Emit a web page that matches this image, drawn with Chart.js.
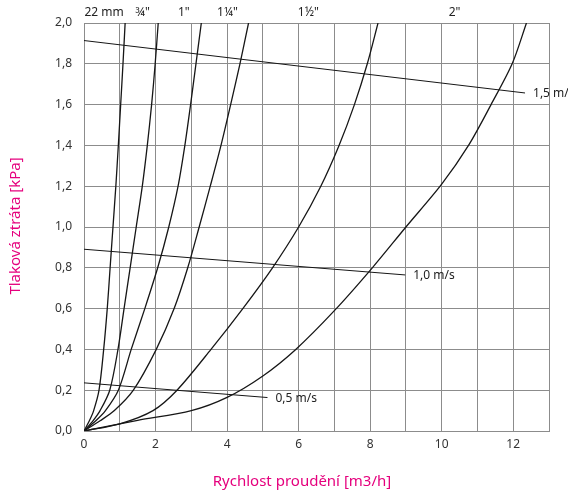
<!DOCTYPE html>
<html>
<head>
<meta charset="utf-8">
<script src="https://cdn.jsdelivr.net/npm/chart.js@4"></script>
<style>
html, body { margin: 0; padding: 0; background: #fff; }
#graf { display: block; }
</style>
</head>
<body>
<canvas id="graf" width="568" height="494"></canvas>
<script>
// Dimenze potrubí a kde nad grafem stojí jejich popisky (v jednotkách osy X)
const potrubi = ['22 mm', '¾"', '1"', '1¼"', '1½"', '2"'];
const popiskyX = [0.56, 1.64, 2.79, 4.01, 6.27, 10.36];

// Tlakové ztráty jednotlivých potrubí: průtok [m3/h] a ztráta [kPa]
const prutok22 = [0, 0.15, 0.27, 0.42, 0.55, 0.65, 0.73, 0.81, 0.89, 0.96, 1.025, 1.09, 1.15];
const ztrata22 = [0, 0.05, 0.10, 0.20, 0.40, 0.60, 0.80, 1.00, 1.20, 1.40, 1.60, 1.80, 2.00];

const prutok34 = [0, 0.25, 0.45, 0.72, 0.95, 1.12, 1.29, 1.46, 1.63, 1.77, 1.89, 1.99, 2.075];
const ztrata34 = [0, 0.05, 0.10, 0.20, 0.40, 0.60, 0.80, 1.00, 1.20, 1.40, 1.60, 1.80, 2.00];

const prutok1 = [0, 0.33, 0.6, 0.96, 1.32, 1.7, 2.06, 2.37, 2.63, 2.82, 2.98, 3.13, 3.28];
const ztrata1 = [0, 0.05, 0.10, 0.20, 0.40, 0.60, 0.80, 1.00, 1.20, 1.40, 1.60, 1.80, 2.00];

const prutok114 = [0, 0.45, 0.85, 1.38, 2.02, 2.52, 2.9, 3.22, 3.53, 3.83, 4.1, 4.36, 4.6];
const ztrata114 = [0, 0.05, 0.10, 0.20, 0.40, 0.60, 0.80, 1.00, 1.20, 1.40, 1.60, 1.80, 2.00];

const prutok112 = [0, 1.0, 1.93, 2.6, 3.55, 4.44, 5.27, 6.0, 6.62, 7.13, 7.56, 7.92, 8.22];
const ztrata112 = [0, 0.035, 0.10, 0.20, 0.40, 0.60, 0.80, 1.00, 1.20, 1.40, 1.60, 1.80, 2.00];

const prutok2 = [0, 1.5, 3, 4, 5, 5.92, 7.0, 8.06, 9.0, 10.0, 10.75, 11.38, 11.97, 12.37];
const ztrata2 = [0, 0.052, 0.10, 0.165, 0.27, 0.40, 0.59, 0.80, 1.00, 1.21, 1.40, 1.60, 1.80, 2.00];

const prutoky = [prutok22, prutok34, prutok1, prutok114, prutok112, prutok2];
const ztraty = [ztrata22, ztrata34, ztrata1, ztrata114, ztrata112, ztrata2];

// Čáry rychlosti proudění (začátek a konec)
const rychlosti = ['0,5 m/s', '1,0 m/s', '1,5 m/s'];
const rychlostX = [[0, 5.13], [0, 8.98], [0, 12.33]];
const rychlostY = [[0.236, 0.164], [0.891, 0.765], [1.914, 1.657]];

const RUZOVA = '#e5007d';
const PISMO = '"Noto Sans", "Open Sans", sans-serif';

function body(xs, ys) {
    return xs.map((x, i) => ({ x: x, y: ys[i] }));
}

const datasets = [];
prutoky.forEach((xs, i) => {
    datasets.push({
        label: potrubi[i],
        data: body(xs, ztraty[i]),
        borderColor: '#161616',
        borderWidth: 1.3,
        pointRadius: 0,
        fill: false,
        tension: 0.3
    });
});
rychlosti.forEach((r, i) => {
    datasets.push({
        label: r,
        data: body(rychlostX[i], rychlostY[i]),
        borderColor: '#161616',
        borderWidth: 1,
        pointRadius: 0,
        fill: false,
        tension: 0,
        clip: false
    });
});

// Popisky potrubí, rychlostí a názvy os
const popisky = {
    id: 'popisky',
    afterDraw(chart) {
        const ctx = chart.ctx;
        const sx = chart.scales.x;
        const sy = chart.scales.y;
        ctx.save();
        ctx.fillStyle = '#222';
        ctx.font = '12px ' + PISMO;
        ctx.textAlign = 'center';
        ctx.textBaseline = 'middle';
        potrubi.forEach((p, i) => {
            ctx.fillText(p, sx.getPixelForValue(popiskyX[i]), 13);
        });

        ctx.textAlign = 'left';
        rychlosti.forEach((r, i) => {
            const px = sx.getPixelForValue(rychlostX[i][1]);
            const py = sy.getPixelForValue(rychlostY[i][1]);
            ctx.fillText(r, px + 8, py + 1);
        });

        ctx.fillStyle = RUZOVA;
        ctx.font = '15px ' + PISMO;
        ctx.textAlign = 'center';
        ctx.fillText('Rychlost proudění [m3/h]', 302, 482);
        ctx.translate(16, 226);
        ctx.rotate(-Math.PI / 2);
        ctx.fillText('Tlaková ztráta [kPa]', 0, 0);
        ctx.restore();
    }
};

new Chart(document.getElementById('graf'), {
    type: 'line',
    data: { datasets: datasets },
    options: {
        responsive: false,
        animation: false,
        devicePixelRatio: 1,
        layout: { padding: { top: 23, right: 19, left: 0, bottom: 0 } },
        plugins: {
            legend: { display: false },
            tooltip: { enabled: false }
        },
        scales: {
            x: {
                type: 'linear',
                min: 0,
                max: 13,
                afterFit: (s) => { s.height = 63; },
                grid: { color: '#8c8c8c', lineWidth: 1, drawTicks: false },
                border: { color: '#8c8c8c' },
                ticks: {
                    stepSize: 1,
                    padding: 6,
                    color: '#333',
                    font: { family: PISMO, size: 12 },
                    callback: (v) => (v % 2 === 0 && v < 13 ? String(v) : '')
                }
            },
            y: {
                min: 0,
                max: 2,
                afterFit: (s) => { s.width = 84; },
                grid: { color: '#8c8c8c', lineWidth: 1, drawTicks: false },
                border: { color: '#8c8c8c' },
                ticks: {
                    stepSize: 0.2,
                    padding: 12,
                    color: '#333',
                    font: { family: PISMO, size: 12 },
                    callback: (v) => v.toFixed(1).replace('.', ',')
                }
            }
        }
    },
    plugins: [popisky]
});
</script>
</body>
</html>
